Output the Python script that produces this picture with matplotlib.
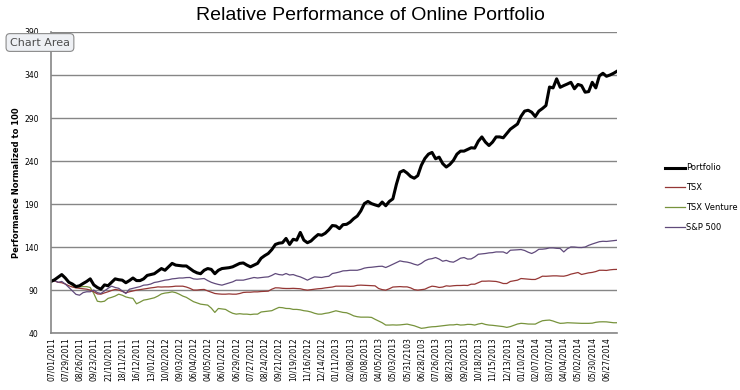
import matplotlib
matplotlib.use("Agg")
import matplotlib.pyplot as plt

# weekly tick labels (every 4th week), as printed in the original
tick_labels = ["07/01/2011", "07/29/2011", "08/26/2011", "09/23/2011", "21/10/2011",
               "18/11/2011", "16/12/2011", "13/01/2012", "10/02/2012", "09/03/2012",
               "06/04/2012", "04/05/2012", "06/01/2012", "06/29/2012", "07/27/2012",
               "08/24/2012", "09/21/2012", "10/19/2012", "11/16/2012", "12/14/2012",
               "01/11/2013", "02/08/2013", "03/08/2013", "04/05/2013", "05/03/2013",
               "05/31/2103", "06/28/2103", "07/26/2013", "08/23/2013", "09/20/2013",
               "10/18/2013", "11/15/2013", "12/13/2013", "01/10/2014", "02/07/2014",
               "03/07/2014", "04/04/2014", "05/02/2014", "05/30/2014", "06/27/2014"]

portfolio = [100, 102, 105, 108, 104, 99, 97, 94, 95, 97.6,
             100, 103, 96, 93, 91, 96, 95, 99, 103, 102,
             101.5, 98.5, 101, 104, 101, 101, 103, 107, 108, 109,
             112, 115, 113, 117, 121, 119, 118.5, 118, 118, 115,
             112, 110, 109, 113, 115, 114, 109, 113, 115, 115.5,
             116, 117, 119, 121, 121.5, 119, 117, 119, 121, 127,
             130, 132.5, 137, 143, 144.5, 145, 150, 143, 149, 148,
             157, 148, 145, 147, 151, 154.5, 153.7, 156, 160, 165,
             164.5, 161.4, 166, 166.4, 169, 173, 176, 182, 190.5, 193,
             190.5, 189, 187.7, 192.3, 188, 193, 196, 213, 227, 229,
             226, 222, 220, 223, 235, 243, 248, 250, 242.6, 244.5,
             237, 233, 236, 240.7, 248, 251.5, 251.5, 253.5, 255.4, 255,
             263, 268, 262, 258, 262, 268, 268, 267, 272, 277,
             280, 283, 292, 298, 299, 296.7, 291.7, 298, 301, 304.5,
             326, 325, 335.5, 325.7, 327.7, 329.5, 331.5, 324, 329, 327.7,
             320, 320.7, 331.5, 325, 339, 342, 338.5, 340, 342, 344.5]

tsx = [100, 100.5, 99, 98.5, 97, 95, 93.5, 92.5, 92, 91.5,
       91, 90, 88, 85.5, 85.2, 86.7, 88, 89.5, 90.7, 90,
       88.5, 86.7, 88, 89, 89.9, 90.5, 91, 91.8, 92.5, 93,
       93.7, 93.5, 93.7, 93.7, 94, 94.5, 94.5, 94.5, 93.5, 92,
       90, 90, 90.5, 90.7, 89, 87.5, 86, 85.5, 85.2, 85.2,
       85.5, 85.2, 85.2, 86, 87.2, 87.5, 87.5, 87.9, 87.9, 88.3,
       88.5, 88.7, 91, 92.6, 92.5, 92, 91.8, 91.8, 92, 91.8,
       91.5, 90.5, 89.9, 90.5, 91, 91.5, 91.8, 92.5, 93, 93.5,
       94.5, 94.5, 94.5, 94.5, 94.3, 94.5, 95.5, 95.7, 95.5, 95.3,
       95, 94.9, 91.8, 90.5, 89.9, 91.5, 93.5, 93.7, 94, 93.7,
       93.7, 92.5, 90.5, 89.9, 90.5, 91, 93, 94.5, 94, 93,
       93.5, 94.9, 94.5, 95, 95.3, 95.3, 95.5, 95.3, 96.8, 96.8,
       98.5, 100.3, 100.3, 100.5, 100.3, 100, 99, 97.6, 97.6, 100,
       100.7, 101.5, 103.4, 103, 102.5, 102.3, 102.3, 104, 106.1, 106,
       106.3, 106.5, 106.5, 106.2, 106.1, 107, 108.5, 109.5, 110.4, 108.1,
       109, 110, 110.5, 111.5, 113, 113, 112.8, 113.5, 113.9, 114]

tsx_venture = [100, 102, 105, 108, 104, 100, 95, 93, 93.7, 94,
               94, 93, 86, 77, 76.3, 77, 80.3, 81.5, 83, 85.2,
               84, 82, 81, 80.3, 74, 76, 78.3, 79, 80, 81,
               83, 85.5, 86.5, 87, 87.9, 87, 85.2, 83, 81.5, 79,
               76.5, 75, 73.6, 73, 72.5, 69, 64, 68.6, 68, 67.5,
               65, 63, 62, 62.5, 62, 62, 61.5, 62, 62, 64.5,
               65, 65.5, 66, 68, 69.8, 69.5, 68.6, 68.5, 67.5, 67.5,
               67, 66, 65.5, 64.5, 63, 62, 62, 62.9, 63.5, 64.7,
               65.9, 65, 64, 63.6, 62, 60, 59, 58.5, 58.5, 58.5,
               58.2, 56, 54, 52, 49.3, 49.3, 49.5, 49.3, 49.5, 50,
               50.4, 49.5, 48.5, 47, 45.5, 46, 46.8, 47.3, 47.5, 48,
               48.5, 49, 49.5, 49.5, 50.1, 49.3, 49.5, 50.1, 50, 49.3,
               50.5, 51.3, 50, 49.3, 49, 48.5, 48, 47.5, 46.6, 47.5,
               49, 50.5, 51.3, 51, 50.5, 50.4, 50.4, 52.5, 54.3, 54.8,
               55.1, 54, 52.5, 51.3, 51.5, 52, 51.8, 51.5, 51.3, 51.3,
               51.3, 51.3, 51.5, 52.5, 53, 53.1, 53, 52.5, 52, 52]

sp500 = [100, 101, 99, 100, 97, 93, 89, 85, 84, 87,
         88, 88, 90, 87, 86, 89, 92, 94.5, 93, 92,
         89, 86, 91, 92, 93, 94, 95.7, 96, 97, 98.8,
         99.5, 100.5, 101.5, 102, 103, 103.4, 104, 104, 104.5, 104.6,
         103, 102.6, 103, 103.4, 101, 99, 97.6, 96.5, 95.7, 97,
         98.4, 99.5, 101.5, 101.5, 101.5, 102.5, 103.5, 104.6, 104, 104.5,
         105, 105.3, 107, 109.2, 108, 107.5, 109.2, 107.5, 108, 106.5,
         105.3, 103.5, 101.5, 103.5, 105.3, 105, 104.6, 105.5, 106, 109.2,
         110, 111, 112.3, 112.5, 113, 113, 113, 114, 115.5, 116.2,
         116.5, 117, 117.5, 117.7, 116.2, 118, 120, 122, 123.9, 123,
         122.5, 121.5, 120, 118.9, 121, 124, 125.8, 126.5, 127.8, 126,
         123.5, 124.5, 123, 122.4, 124.5, 127, 127.8, 126, 126.2, 128.5,
         131.6, 132, 132.5, 133.2, 133.5, 134.3, 134.3, 134.3, 132.5, 136.3,
         136.5, 136.8, 137.1, 136, 134, 132.5, 134.5, 137.4, 137.5, 138,
         139, 139, 138.5, 138.3, 134.3, 138, 140.1, 140, 139.5, 139.4,
         140, 142, 143.5, 144.8, 146.2, 146.7, 146.5, 147, 147.5, 147.9]

weeks = list(range(len(portfolio)))
grid_col = "#868686"

fig = plt.figure(figsize=(7.4, 3.9), dpi=100)
ax = fig.add_axes([0.069, 0.146, 0.765, 0.772])

ax.plot(weeks, tsx_venture, color="#77933C", lw=0.9, label="TSX Venture")
ax.plot(weeks, tsx, color="#953735", lw=0.9, label="TSX")
ax.plot(weeks, sp500, color="#604A7B", lw=0.9, label="S&P 500")
ax.plot(weeks, portfolio, color="black", lw=2.2, label="Portfolio")

ax.set_xlim(0, len(weeks) - 1)
ax.set_ylim(40, 390)
ax.set_yticks(range(40, 391, 50))
ax.yaxis.grid(True, color=grid_col, lw=1)
ax.set_axisbelow(True)
ax.set_xticks(weeks[::4])
ax.set_xticklabels(tick_labels, rotation=90, fontsize=5.5)
ax.tick_params(axis="y", labelsize=5.5, length=0, pad=9)
ax.tick_params(axis="x", length=0, pad=3)
for s in ["top", "right"]:
    ax.spines[s].set_visible(False)
for s in ["left", "bottom"]:
    ax.spines[s].set_color(grid_col)
    ax.spines[s].set_linewidth(1.2)

ax.set_ylabel("Performance Normalized to 100", fontsize=6, fontweight="bold", labelpad=2)
fig.text(0.5, 0.96, "Relative Performance of Online Portfolio",
         ha="center", va="center", fontsize=14, family="Liberation Sans")

h, l = ax.get_legend_handles_labels()
order = [3, 1, 0, 2]
fig.legend([h[i] for i in order], [l[i] for i in order], loc="upper left",
           bbox_to_anchor=(0.888, 0.6), frameon=False, fontsize=6,
           handlelength=2.4, handletextpad=0.2, labelspacing=1.3)

fig.text(0.054, 0.891, "Chart Area", ha="center", va="center", fontsize=8,
         color="#4d4d4d",
         bbox=dict(boxstyle="round,pad=0.35", fc="#eef0f4", ec="#8a8a8a", lw=0.8))

fig.savefig("out.png", dpi=100)
